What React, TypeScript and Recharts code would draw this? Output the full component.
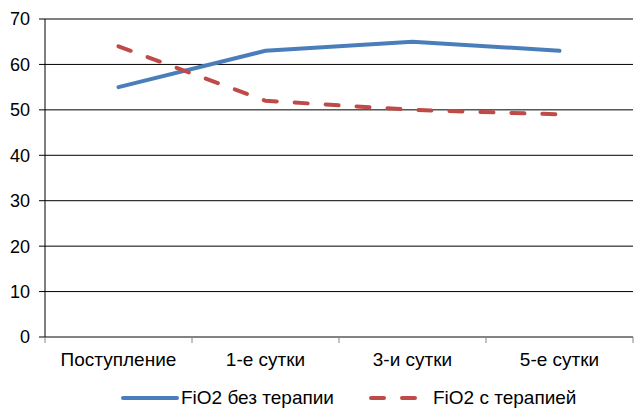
import React from "react";
import { LineChart, Line, XAxis, YAxis, CartesianGrid, Legend } from "recharts";

const categories = ["Поступление", "1-е сутки", "3-и сутки", "5-е сутки"];
const withoutTherapy = [55, 63, 65, 63];
const withTherapy = [64, 52, 50, 49];
const yTicks = [0, 10, 20, 30, 40, 50, 60, 70];

const data = categories.map((name, i) => ({
  name,
  without: withoutTherapy[i],
  with: withTherapy[i],
}));

const W = 634;
const H = 414;
const LEFT = 45;
const RIGHT = 1;
const BAND = (W - LEFT - RIGHT) / categories.length;
const FONT = "'Liberation Sans', Arial, sans-serif";
const BLUE = "#4A7EBB";
const RED = "#BE4B48";

const XTick = (props: any) => {
  const { x, y, payload, index } = props;
  const left = x - BAND / 2;
  return (
    <g>
      <line x1={left} y1={y} x2={left} y2={y + 6} stroke="#868686" />
      {index === categories.length - 1 && (
        <line x1={x + BAND / 2} y1={y} x2={x + BAND / 2} y2={y + 6} stroke="#868686" />
      )}
      <text x={x} y={y + 29} textAnchor="middle" fontSize={19} fill="#000" fontFamily={FONT}>
        {payload.value}
      </text>
    </g>
  );
};

const LegendBox = () => (
  <div style={{ display: "flex", alignItems: "center", fontFamily: FONT, fontSize: 19, color: "#000", marginLeft: 121, height: 32 }}>
    <svg width={58} height={10}>
      <line x1={2} y1={5} x2={56} y2={5} stroke={BLUE} strokeWidth={4} strokeLinecap="round" />
    </svg>
    <span style={{ marginLeft: 2 }}>FiO2 без терапии</span>
    <svg width={52} height={10} style={{ marginLeft: 34 }}>
      <line x1={3} y1={5} x2={49} y2={5} stroke={RED} strokeWidth={4} strokeLinecap="round" strokeDasharray="13 18" />
    </svg>
    <span style={{ marginLeft: 13 }}>FiO2 с терапией</span>
  </div>
);

export default function App() {
  return (
    <div style={{ position: "absolute", left: 0, top: 0, width: W, height: H, background: "#fff" }}>
      <LineChart width={W} height={H} data={data} margin={{ top: 19, right: RIGHT, left: 0, bottom: 0 }}>
        <CartesianGrid vertical={false} stroke="#000" />
        <XAxis
          dataKey="name"
          scale="band"
          axisLine={{ stroke: "#868686" }}
          tickLine={false}
          tickSize={0}
          tickMargin={0}
          height={45}
          interval={0}
          tick={<XTick />}
        />
        <YAxis
          domain={[0, 70]}
          ticks={yTicks}
          width={LEFT}
          axisLine={{ stroke: "#000" }}
          tickLine={{ stroke: "#000" }}
          tickSize={6}
          tickMargin={9}
          tick={{ fill: "#000", fontSize: 18, fontFamily: FONT }}
        />
        <Legend verticalAlign="bottom" height={32} content={<LegendBox />} />
        <Line
          dataKey="without"
          stroke={BLUE}
          strokeWidth={4}
          dot={false}
          strokeLinecap="round"
          isAnimationActive={false}
        />
        <Line
          dataKey="with"
          stroke={RED}
          strokeWidth={4}
          dot={false}
          strokeLinecap="round"
          strokeDasharray="13 18"
          isAnimationActive={false}
        />
      </LineChart>
    </div>
  );
}
